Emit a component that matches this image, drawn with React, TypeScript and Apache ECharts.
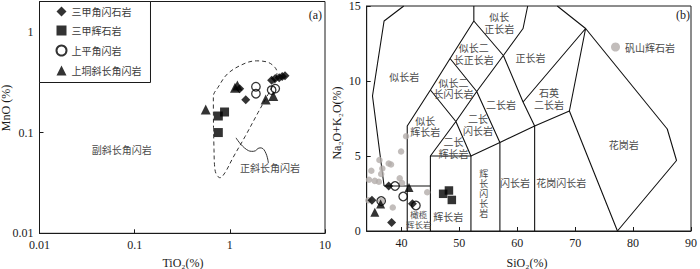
import React, { useEffect, useRef } from 'react';
import * as echarts from 'echarts';

// ---------- Panel (a): TiO2 (%) vs MnO (%) ----------
const aDiamond: number[][] = [[1.47, 0.212], [1.27, 0.272], [2.75, 0.33], [3.0, 0.345], [3.3, 0.35], [3.55, 0.36], [3.8, 0.366]];
const aSquare: number[][] = [[0.757, 0.146], [0.88, 0.16], [0.757, 0.1]];
const aCircle: number[][] = [[1.88, 0.285], [1.88, 0.243], [2.75, 0.264], [3.0, 0.273]];
const aTriangle: number[][] = [[0.558, 0.169], [1.134, 0.278], [1.2, 0.294], [2.38, 0.213], [2.86, 0.23]];
// 正斜长角闪岩 field outline (dashed)
const aField: number[][] = [
  [0.674, 0.107], [0.671, 0.229], [0.751, 0.281], [0.957, 0.387], [1.445, 0.487], [1.91, 0.515],
  [2.52, 0.498], [2.98, 0.443], [3.13, 0.396], [2.91, 0.308], [2.52, 0.239], [1.98, 0.158],
  [1.445, 0.0912], [1.08, 0.0564], [0.89, 0.04], [0.789, 0.0356], [0.716, 0.0391], [0.69, 0.048],
  [0.682, 0.0677], [0.674, 0.107],
];
// leader curve to label
const aLeader: number[][] = [[1.162, 0.0886], [1.505, 0.0677], [1.766, 0.0651], [2.076, 0.0705], [2.34, 0.0651], [2.54, 0.0499]];
const aLabels = [
  { name: '副斜长角闪岩', value: [0.0731, 0.0677] },
  { name: '正斜长角闪岩', value: [2.645, 0.0448] },
];

// ---------- Panel (b): SiO2 (%) vs Na2O+K2O (%) ----------
const bGray: number[][] = [
  [40.8, 6.32], [39.94, 5.3], [36.2, 4.73], [37.8, 4.5], [38.2, 4.43], [36.7, 4.17], [34.8, 4.02],
  [36.5, 3.8], [34.4, 3.42], [35.4, 3.34], [36.1, 3.28], [39.7, 3.52], [40.1, 3.2], [44.45, 2.58],
  [38.5, 1.57], [34.3, 2.05], [36.5, 2.0],
];
const bDiamond: number[][] = [[37.8, 3.0], [34.9, 2.05], [41.9, 1.82], [38.3, 0.57]];
const bSquare: number[][] = [[47.2, 2.48], [48.2, 2.7], [48.7, 2.07]];
const bCircle: number[][] = [[38.9, 3.0], [40.3, 2.3], [42.5, 1.7], [36.5, 2.0]];
const bTriangle: number[][] = [[41.3, 2.9], [36.4, 1.8], [35.4, 1.25]];
// TAS field boundaries (Middlemost, plutonic)
const bBoundaries: number[][][] = [
  [[37, 3], [35, 9], [37, 14], [40.4, 15]],
  [[37, 3], [45, 3]],
  [[41, 0], [41, 7], [45, 9.4], [48.4, 11.5], [52.5, 14], [52.5, 15]],
  [[45, 0], [45, 5], [52, 5], [57, 5.9], [63, 7], [69, 8], [77.3, 0]],
  [[52, 0], [52, 5]],
  [[57, 0], [57, 5.9]],
  [[63, 0], [63, 7]],
  [[45, 5], [49.4, 7.3], [52, 5]],
  [[45, 9.4], [49.4, 7.3], [53, 9.3], [57, 5.9]],
  [[48.4, 11.5], [53, 9.3], [57.6, 11.7], [52.5, 14]],
  [[57.6, 11.7], [61, 8.6], [63, 7]],
  [[61, 8.6], [71.8, 13.5], [69, 8]],
  [[57.6, 11.7], [61, 13.5], [61.8, 15]],
  [[66.9, 15], [71.8, 13.5], [85.9, 6.8], [87.5, 4.7], [77.3, 0]],
];
const bLabels = [
  { name: '似长岩', value: [40.5, 10.27] },
  { name: '似长\n正长岩', value: [56.9, 13.9] },
  { name: '似长二\n长正长岩', value: [52.5, 11.84] },
  { name: '正长岩', value: [62.3, 11.58] },
  { name: '似长二\n长闪长岩', value: [49.0, 9.55] },
  { name: '二长岩', value: [57.2, 8.46] },
  { name: '石英\n二长岩', value: [65.5, 8.83] },
  { name: '似长\n辉长岩', value: [44.1, 7.0] },
  { name: '二长\n闪长岩', value: [53.2, 7.11] },
  { name: '二长\n辉长岩', value: [49.0, 5.56] },
  { name: '花岗岩', value: [78.4, 5.78] },
  { name: '闪长岩', value: [59.6, 3.22] },
  { name: '花岗闪长岩', value: [67.6, 3.22] },
  { name: '辉长岩', value: [48.1, 1.0] },
];
const bVertLabels = [{ name: '辉\n长\n闪\n长\n岩', value: [54.2, 2.5] }];
const bSmallLabels = [{ name: '橄榄\n辉长岩', value: [43.0, 0.83] }];

const NAMES = ['三甲角闪石岩', '三甲辉石岩', '上平角闪岩', '上垌斜长角闪岩'];
const GRAY_NAME = '矾山辉石岩';

const SERIF = "'Liberation Serif', 'DejaVu Serif', serif";
const CJK = "'Noto Sans CJK SC', sans-serif";
const INK = '#1a1a1a';
const LABEL_INK = '#4a4a4a';

function fmtNum(v: number) {
  return String(+Number(v).toPrecision(6));
}

export default function App() {
  const ref = useRef<HTMLDivElement>(null);
  useEffect(() => {
    const chart = echarts.init(ref.current!, null, { renderer: 'svg' });

    const axisCommon = {
      axisLine: { show: true, lineStyle: { color: INK, width: 1 } },
      axisTick: { show: true, inside: true, length: 4, lineStyle: { color: INK, width: 1 } },
      axisLabel: { color: INK, fontFamily: SERIF, fontSize: 12, margin: 6 },
      splitLine: { show: false },
      minorTick: { show: false },
      minorSplitLine: { show: false },
    };

    const sym = (name: string, symbol: string, size: number, data: number[][], gi: number, hollow = false) => ({
      type: 'scatter',
      name,
      xAxisIndex: gi,
      yAxisIndex: gi,
      symbol,
      symbolSize: size,
      data,
      z: 5,
      itemStyle: hollow
        ? { color: 'rgba(255,255,255,0)', borderColor: '#000', borderWidth: 1.3 }
        : { color: '#000', borderWidth: 0 },
      silent: true,
    });

    const series: any[] = [
      // panel (a)
      {
        type: 'line', xAxisIndex: 0, yAxisIndex: 0, data: aField, smooth: 0.35, symbol: 'none', silent: true, z: 2,
        lineStyle: { color: '#333', width: 1, type: [4, 3] },
      },
      {
        type: 'line', xAxisIndex: 0, yAxisIndex: 0, data: aLeader, smooth: 0.5, symbol: 'none', silent: true, z: 2,
        lineStyle: { color: '#333', width: 1 },
      },
      sym(NAMES[0], 'diamond', 9, aDiamond, 0),
      sym(NAMES[1], 'rect', 9, aSquare, 0),
      sym(NAMES[2], 'circle', 8.5, aCircle, 0, true),
      sym(NAMES[3], 'triangle', 10, aTriangle, 0),
      // panel (b)
      ...bBoundaries.map((b) => ({
        type: 'line', xAxisIndex: 1, yAxisIndex: 1, data: b, symbol: 'none', silent: true, z: 2,
        lineStyle: { color: '#111', width: 1.1 },
      })),
      {
        type: 'scatter', name: GRAY_NAME, xAxisIndex: 1, yAxisIndex: 1, symbol: 'circle', symbolSize: 6.5,
        data: bGray, z: 4, silent: true, itemStyle: { color: '#b3acaa' },
      },
      sym(NAMES[0], 'diamond', 9, bDiamond, 1),
      sym(NAMES[1], 'rect', 8.5, bSquare, 1),
      sym(NAMES[2], 'circle', 8.5, bCircle, 1, true),
      sym(NAMES[3], 'triangle', 9, bTriangle, 1),
    ];

    const option: any = {
      animation: false,
      backgroundColor: '#fff',
      grid: [
        { left: 39.5, top: 1.5, width: 285.5, height: 231.8, show: true, borderColor: INK, borderWidth: 1, backgroundColor: 'transparent' },
        { left: 366.7, top: 1.5, width: 330, height: 229.5, show: true, borderColor: INK, borderWidth: 1, backgroundColor: 'transparent' },
      ],
      xAxis: [
        {
          ...axisCommon, type: 'log', logBase: 10, gridIndex: 0, min: 0.01, max: 10,
          axisLabel: { ...axisCommon.axisLabel, formatter: fmtNum },
        },
        {
          ...axisCommon, type: 'value', gridIndex: 1, min: 34, max: 90,
          axisLabel: { ...axisCommon.axisLabel, showMinLabel: false },
        },
      ],
      yAxis: [
        {
          ...axisCommon, type: 'log', logBase: 10, gridIndex: 0, min: 0.01, max: 2,
          axisLabel: { ...axisCommon.axisLabel, showMaxLabel: false, formatter: fmtNum },
        },
        {
          ...axisCommon, type: 'value', gridIndex: 1, min: 0, max: 15, interval: 5,
        },
      ],
      legend: [
        {
          data: NAMES,
          orient: 'vertical',
          left: 39.5,
          top: 1.5,
          padding: [5, 9, 7, 16],
          itemGap: 9,
          itemWidth: 10,
          itemHeight: 10,
          borderColor: INK,
          borderWidth: 1,
          backgroundColor: '#fff',
          selectedMode: false,
          textStyle: { fontFamily: CJK, fontSize: 10, color: '#3a3a3a' },
        },
        {
          data: [GRAY_NAME],
          orient: 'vertical',
          left: 611,
          top: 42,
          padding: 0,
          itemWidth: 9,
          itemHeight: 9,
          selectedMode: false,
          textStyle: { fontFamily: CJK, fontSize: 10, color: LABEL_INK },
        },
      ],
      series,
    };

    chart.setOption(option);

    // Field labels placed through the axes' own scales
    const place = (items: any[], gi: number, fontSize: number, lineHeight: number) =>
      items.map((it) => {
        const p = chart.convertToPixel({ gridIndex: gi }, it.value) as number[];
        return {
          type: 'text',
          x: p[0],
          y: p[1],
          silent: true,
          z: 3,
          style: {
            text: it.name,
            fontFamily: CJK,
            fontSize,
            lineHeight,
            fill: LABEL_INK,
            align: 'center',
            verticalAlign: 'middle',
          },
        };
      });

    const fixed = [
      { type: 'text', x: 183, y: 263, silent: true, style: { text: 'TiO₂(%)', fontFamily: SERIF, fontSize: 12, fill: INK, align: 'center', verticalAlign: 'middle' } },
      { type: 'text', x: 527, y: 263, silent: true, style: { text: 'SiO₂(%)', fontFamily: SERIF, fontSize: 12, fill: INK, align: 'center', verticalAlign: 'middle' } },
      { type: 'text', x: 6, y: 108, rotation: Math.PI / 2, silent: true, style: { text: 'MnO (%)', fontFamily: SERIF, fontSize: 12, fill: INK, align: 'center', verticalAlign: 'middle' } },
      { type: 'text', x: 337, y: 123, rotation: Math.PI / 2, silent: true, style: { text: 'Na₂O+K₂O(%)', fontFamily: SERIF, fontSize: 12, fill: INK, align: 'center', verticalAlign: 'middle' } },
      { type: 'text', x: 322, y: 15, silent: true, style: { text: '(a)', fontFamily: SERIF, fontSize: 12, fill: INK, align: 'right', verticalAlign: 'middle' } },
      { type: 'text', x: 690, y: 15, silent: true, style: { text: '(b)', fontFamily: SERIF, fontSize: 12, fill: INK, align: 'right', verticalAlign: 'middle' } },
    ];

    chart.setOption({
      graphic: [
        ...fixed,
        ...place(aLabels, 0, 10, 12),
        ...place(bLabels, 1, 10, 11.5),
        ...place(bVertLabels, 1, 9, 10.2),
        ...place(bSmallLabels, 1, 8.5, 10),
      ],
    });

    return () => chart.dispose();
  }, []);

  return (
    <div
      ref={ref}
      style={{ position: 'fixed', left: 0, top: 0, width: 700, height: 269, background: '#fff' }}
    />
  );
}
